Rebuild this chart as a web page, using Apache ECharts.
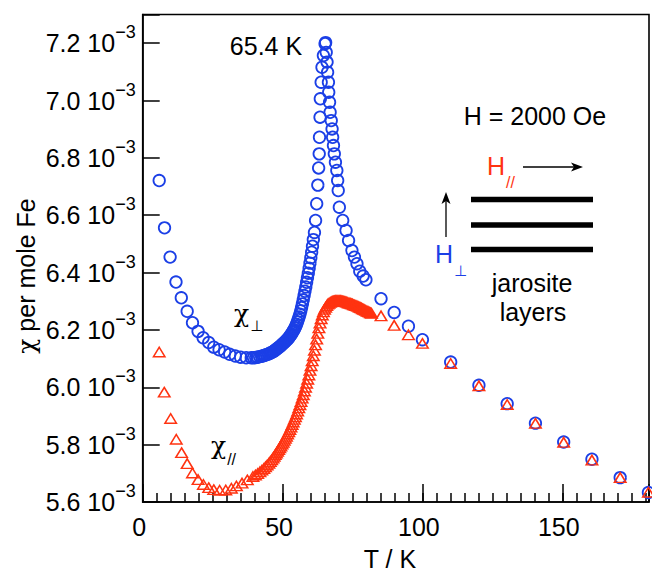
<!DOCTYPE html>
<html><head><meta charset="utf-8">
<script src="https://cdn.jsdelivr.net/npm/echarts@6/dist/echarts.min.js"></script>
<style>html,body{margin:0;padding:0;background:#fff}#c{width:652px;height:573px}</style>
</head><body><div id="c"></div>
<script>
// Tick labels
const xTickLabels = [0, 50, 100, 150];
const yTickLabels = [5.6, 5.8, 6.0, 6.2, 6.4, 6.6, 6.8, 7.0, 7.2]; // units of 10^-3

// chi_perp (H perpendicular to layers), blue circles. T in K, chi in 10^-3 per mole Fe
const perpT = [5.9,7.8,9.8,11.9,13.8,15.9,17.8,19.8,21.6,23.6,25.4,27.3,29.3,31.1,33.1,35.0,37.0,38.8,
  39.6,40.4,41.1,41.8,42.5,43.1,43.7,44.3,44.9,45.4,45.9,46.4,46.9,47.3,47.7,48.1,48.5,48.9,49.3,49.7,
  50.1,50.5,50.9,51.3,51.7,52.0,52.3,52.6,52.9,53.2,53.5,53.8,54.1,54.4,54.7,55.0,55.3,55.6,55.9,56.2,
  56.5,56.8,57.1,57.4,57.7,58.0,58.3,58.6,58.9,59.2,59.5,59.8,60.1,60.4,60.7,61.0,61.4,61.8,62.2,62.6,62.9,
  63.1,63.2,63.4,63.5,63.8,64.1,64.6,65.2,65.4,
  65.6,65.9,66.1,66.4,66.5,66.8,67.0,67.4,67.7,67.9,68.2,68.5,68.9,69.4,69.7,69.9,70.3,71.5,72.7,73.6,
  74.8,75.7,76.6,77.6,78.8,79.8,
  85.2,89.9,95.0,100.0,110.1,120.2,130.3,140.4,150.5,160.6,170.7,180.8];
const perpChi = [6.721,6.556,6.454,6.367,6.312,6.265,6.225,6.195,6.173,6.156,6.140,6.131,6.123,6.115,6.109,6.105,6.103,6.103,
  6.103,6.104,6.105,6.107,6.108,6.110,6.112,6.114,6.116,6.118,6.121,6.123,6.126,6.129,6.132,6.135,6.138,6.141,6.144,6.148,
  6.152,6.155,6.159,6.163,6.167,6.170,6.174,6.178,6.182,6.186,6.191,6.196,6.201,6.207,6.213,6.220,6.228,6.236,6.245,6.255,
  6.266,6.278,6.291,6.305,6.320,6.335,6.350,6.366,6.382,6.398,6.415,6.433,6.452,6.471,6.492,6.515,6.540,6.582,6.640,6.705,6.765,
  6.814,6.872,6.942,7.006,7.064,7.116,7.157,7.198,7.202,
  7.168,7.134,7.099,7.064,7.029,6.994,6.959,6.930,6.901,6.872,6.843,6.814,6.785,6.756,6.721,6.686,6.628,6.582,6.547,6.512,
  6.477,6.454,6.431,6.405,6.388,6.375,
  6.309,6.261,6.213,6.166,6.088,6.007,5.943,5.875,5.809,5.749,5.685,5.633];

// chi_parallel (H parallel to layers), red triangles
const parT = [5.9,7.7,10.0,12.0,13.9,15.9,17.8,19.8,21.7,23.6,25.4,27.5,29.7,31.7,33.5,35.5,37.4,39.4,
  40.3,41.1,41.9,42.6,43.3,43.9,44.5,45.1,45.6,46.1,46.6,47.0,47.4,47.8,48.2,48.6,49.0,49.4,49.8,
  50.2,50.6,51.0,51.4,51.8,52.2,52.6,53.0,53.4,53.8,54.2,54.6,55.0,55.4,55.8,56.2,56.6,57.0,57.4,57.8,
  58.2,58.6,59.0,59.4,59.8,60.2,60.6,61.0,61.4,61.8,62.2,62.6,63.0,63.4,63.8,64.2,64.6,65.0,65.4,65.8,
  66.2,66.6,67.0,67.4,67.8,68.2,68.6,69.0,69.4,69.8,70.2,70.6,71.0,71.4,71.8,72.2,72.6,73.0,73.4,73.8,
  74.2,74.6,75.0,75.4,75.8,76.2,76.6,77.0,77.4,77.8,78.2,78.6,79.0,79.4,79.8,80.2,80.6,81.0,81.4,81.8,
  85.2,89.9,95.0,100.0,110.1,120.2,130.3,140.4,150.5,160.6,170.7,180.8];
const parChi = [6.123,5.983,5.891,5.819,5.772,5.734,5.701,5.678,5.661,5.650,5.643,5.641,5.642,5.648,5.656,5.666,5.677,5.689,
  5.694,5.699,5.705,5.711,5.717,5.723,5.729,5.735,5.741,5.747,5.753,5.759,5.765,5.771,5.777,5.783,5.789,5.795,5.802,
  5.808,5.815,5.822,5.829,5.837,5.845,5.853,5.861,5.870,5.879,5.888,5.897,5.907,5.917,5.928,5.939,5.950,5.962,5.974,5.987,
  6.000,6.014,6.028,6.043,6.059,6.075,6.092,6.110,6.129,6.148,6.168,6.188,6.207,6.224,6.239,6.252,6.263,6.272,6.279,6.285,
  6.290,6.293,6.296,6.298,6.300,6.301,6.302,6.303,6.303,6.303,6.303,6.303,6.302,6.301,6.300,6.299,6.298,6.297,6.295,6.294,
  6.293,6.291,6.290,6.288,6.287,6.285,6.284,6.282,6.280,6.278,6.276,6.274,6.272,6.270,6.268,6.266,6.264,6.262,6.260,6.258,
  6.249,6.216,6.183,6.153,6.083,6.005,5.940,5.874,5.808,5.746,5.685,5.634];

const BLUE = '#1b3fe6';
const RED = '#ff3311';
const FONT = '"Liberation Sans", Arial, Helvetica, sans-serif';
const SERIF = '"DejaVu Serif", "Liberation Serif", serif';

const perpData = perpT.map((t, i) => [t, perpChi[i]]);
const parData = parT.map((t, i) => [t, parChi[i]]);

const isYTick = v => yTickLabels.some(t => Math.abs(t - v) < 1e-6);
const isXTick = v => xTickLabels.some(t => Math.abs(t - v) < 1e-6);

const chart = echarts.init(document.getElementById('c'), null, {renderer: 'svg'});
const axisLine = {show: true, lineStyle: {color: '#000', width: 1.6}};

// label with a lowered subscript, as one text element
function subLabel(x, y, main, sub, color, mainFont, mainSize, subFont, subSize, drop) {
  return {type: 'text', x: x, y: y,
    style: {text: '{m|' + main + '}{s|' + sub + '}', fill: color, align: 'left', verticalAlign: 'middle',
      rich: {
        m: {fontFamily: mainFont, fontSize: mainSize, fill: color},
        s: {fontFamily: subFont, fontSize: subSize, fill: color, padding: [drop * 2, 0, 0, 1]}
      }}};
}

chart.setOption({
  animation: false,
  backgroundColor: '#fff',
  grid: {left: 142.7, top: 14.5, right: 2, bottom: 71, show: true, borderColor: '#000', borderWidth: 1.6, containLabel: false},
  xAxis: [
    {type: 'value', min: 0, max: 181, interval: 50, position: 'bottom',
     axisLine, splitLine: {show: false},
     axisTick: {show: true, inside: true, length: 18, lineStyle: {color: '#000', width: 1.5}},
     axisLabel: {show: true, margin: 12, fontSize: 25, fontFamily: FONT, color: '#000', padding: [0, 7, 0, 0],
       formatter: v => isXTick(v) ? String(v) : ''}},
    {type: 'value', min: 0, max: 181, interval: 5, position: 'bottom',
     axisLine: {show: false}, splitLine: {show: false}, axisLabel: {show: false},
     axisTick: {show: true, inside: true, length: 9, lineStyle: {color: '#000', width: 1.5}}}
  ],
  yAxis: [
    {type: 'value', min: 5.6, max: 7.3, interval: 0.2, position: 'left',
     axisLine, splitLine: {show: false},
     axisTick: {show: true, inside: true, length: 17, lineStyle: {color: '#000', width: 1.5}},
     axisLabel: {show: true, margin: 7, color: '#000',
       formatter: v => isYTick(v) ? '{m|' + v.toFixed(1) + ' 10}{s|\u22123}' : '',
       rich: {
         m: {fontSize: 25, fontFamily: FONT, color: '#000'},
         s: {fontSize: 18, fontFamily: FONT, color: '#000', padding: [0, 0, 22, 0]}
       }}}
  ],
  series: [
    {type: 'scatter', name: 'perp', data: perpData, xAxisIndex: 0, yAxisIndex: 0,
     symbol: 'circle', symbolSize: 11.5,
     itemStyle: {color: 'rgba(0,0,0,0)', borderColor: BLUE, borderWidth: 1.8, opacity: 1},
     emphasis: {disabled: true}, z: 2},
    {type: 'scatter', name: 'par', data: parData, xAxisIndex: 0, yAxisIndex: 0,
     symbol: 'triangle', symbolSize: [11.5, 9.5],
     itemStyle: {color: 'rgba(0,0,0,0)', borderColor: RED, borderWidth: 1.5, opacity: 1},
     emphasis: {disabled: true}, z: 3}
  ],
  graphic: [
    {type: 'text', x: 26, y: 276, rotation: Math.PI / 2,
     style: {text: '{g|\u03c7} per mole Fe', fill: '#000', align: 'center', verticalAlign: 'middle',
       font: '25px ' + FONT,
       rich: {g: {fontFamily: SERIF, fontSize: 25, fill: '#000'}}}},
    {type: 'text', x: 390, y: 559,
     style: {text: 'T / K', fill: '#000', align: 'center', verticalAlign: 'middle', font: '25px ' + FONT}},
    {type: 'text', x: 266, y: 46,
     style: {text: '65.4 K', fill: '#000', align: 'center', verticalAlign: 'middle', font: '25px ' + FONT}},
    {type: 'text', x: 535, y: 116,
     style: {text: 'H = 2000 Oe', fill: '#000', align: 'center', verticalAlign: 'middle', font: '25px ' + FONT}},
    {type: 'text', x: 532, y: 283,
     style: {text: 'jarosite', fill: '#000', align: 'center', verticalAlign: 'middle', font: '25px ' + FONT}},
    {type: 'text', x: 533, y: 312,
     style: {text: 'layers', fill: '#000', align: 'center', verticalAlign: 'middle', font: '25px ' + FONT}},
    // chi_perp and chi_parallel labels
    subLabel(234, 313, '\u03c7', '\u22a5', '#000', SERIF, 25, '"DejaVu Sans", sans-serif', 15, 13),
    subLabel(211, 445, '\u03c7', '//', '#000', SERIF, 25, FONT, 16, 14),
    // H parallel (red) and H perp (blue)
    subLabel(487, 166, 'H', '//', RED, FONT, 25, FONT, 16, 16),
    subLabel(435, 254, 'H', '\u22a5', BLUE, FONT, 25, '"DejaVu Sans", sans-serif', 15, 17),
    // horizontal arrow
    {type: 'line', shape: {x1: 523, y1: 167, x2: 575, y2: 167}, style: {stroke: '#000', lineWidth: 1.3}},
    {type: 'polygon', shape: {points: [[583, 167], [571, 162.5], [574, 167], [571, 171.5]]}, style: {fill: '#000'}},
    // vertical arrow
    {type: 'line', shape: {x1: 446, y1: 237, x2: 446, y2: 200}, style: {stroke: '#000', lineWidth: 1.3}},
    {type: 'polygon', shape: {points: [[446, 192], [441.5, 204], [446, 201], [450.5, 204]]}, style: {fill: '#000'}},
    // layers
    {type: 'line', shape: {x1: 471, y1: 199.5, x2: 593, y2: 199.5}, style: {stroke: '#000', lineWidth: 5.5}},
    {type: 'line', shape: {x1: 471, y1: 225, x2: 593, y2: 225}, style: {stroke: '#000', lineWidth: 5.5}},
    {type: 'line', shape: {x1: 471, y1: 249.5, x2: 593, y2: 249.5}, style: {stroke: '#000', lineWidth: 5.5}}
  ]
});
</script>
</body></html>
